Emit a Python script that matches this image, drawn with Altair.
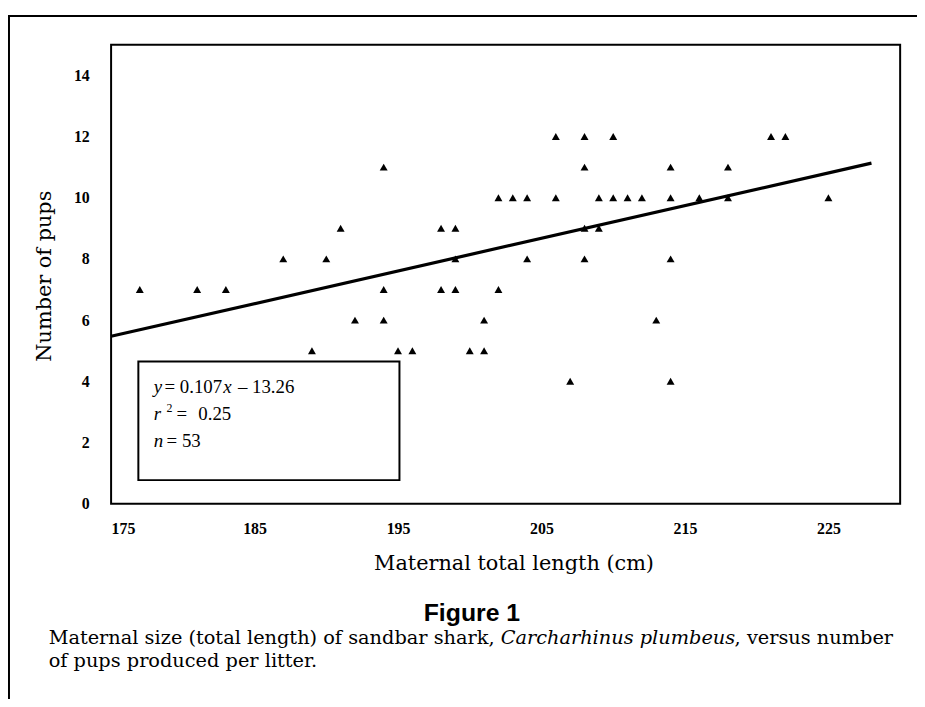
import altair as alt
import pandas as pd

# ---- data ----
length_cm = [206, 208, 210, 221, 222,
             194, 208, 214, 218,
             202, 203, 204, 206, 209, 210, 211, 212, 214, 216, 218, 225,
             191, 198, 199, 208, 209,
             187, 190, 199, 204, 208, 214,
             177, 181, 183, 194, 198, 199, 202,
             192, 194, 201, 213,
             189, 195, 196, 200, 201,
             207, 214]
pups = [12, 12, 12, 12, 12,
        11, 11, 11, 11,
        10, 10, 10, 10, 10, 10, 10, 10, 10, 10, 10, 10,
        9, 9, 9, 9, 9,
        8, 8, 8, 8, 8, 8,
        7, 7, 7, 7, 7, 7, 7,
        6, 6, 6, 6,
        5, 5, 5, 5, 5,
        4, 4]

x_ticks = [175, 185, 195, 205, 215, 225]
y_ticks = [0, 2, 4, 6, 8, 10, 12, 14]
x_domain = [175, 230]
y_domain = [0, 15]

fit_x = [175, 228]
fit_y = [5.47, 11.13]

box_x = [176.9, 195.1]
box_y = [0.77, 4.65]

eq_regular_text = ["= 0.107", "– 13.26", "=", "0.25", "= 53"]
eq_regular_x = [178.72, 183.84, 179.56, 181.08, 178.87]
eq_regular_y = [3.63, 3.63, 2.75, 2.75, 1.85]
eq_italic_text = ["y", "x", "r", "n"]
eq_italic_x = [177.97, 182.81, 177.97, 177.97]
eq_italic_y = [3.63, 3.63, 2.75, 1.85]
eq_sup_text = ["2"]
eq_sup_x = [178.87]
eq_sup_y = [3.0]

x_title = "Maternal total length (cm)"
y_title = "Number of pups"
fig_label = "Figure 1"
caption_1a = "Maternal size (total length) of sandbar shark,"
caption_1b = "Carcharhinus plumbeus"
caption_1c = ", versus number"
caption_2 = "of pups produced per litter."

W, H = 796, 463

df = pd.DataFrame({"length": length_cm, "pups": pups})
fit_df = pd.DataFrame({"length": fit_x, "pups": fit_y})
box_df = pd.DataFrame({"x0": [box_x[0]], "x1": [box_x[1]], "y0": [box_y[0]], "y1": [box_y[1]]})
one = pd.DataFrame({"k": [0]})

xs = alt.Scale(domain=x_domain, nice=False, zero=False)
ys = alt.Scale(domain=y_domain, nice=False, zero=True)

x_axis = alt.Axis(values=x_ticks, title=x_title, grid=False, ticks=False, tickSize=0, domain=False,
                  labelFont="Liberation Serif", labelFontWeight="bold", labelFontSize=16,
                  labelColor="black", labelPadding=17,
                  titleFont="DejaVu Serif", titleFontSize=21, titleFontWeight="normal",
                  titleColor="black", titleX=406, titleY=66, titleAlign="center",
                  titleBaseline="alphabetic")
y_axis = alt.Axis(values=y_ticks, title=y_title, grid=False, ticks=False, tickSize=0, domain=False,
                  labelFont="Liberation Serif", labelFontWeight="bold", labelFontSize=16,
                  labelColor="black", labelPadding=22,
                  titleFont="DejaVu Serif", titleFontSize=21, titleFontWeight="normal",
                  titleColor="black", titleX=-67, titleY=233, titleAngle=270,
                  titleAlign="center", titleBaseline="middle")

points = alt.Chart(df).mark_point(shape="triangle-up", filled=True, color="black",
                                  size=64, opacity=1).encode(
    x=alt.X("length:Q", scale=xs, axis=x_axis),
    y=alt.Y("pups:Q", scale=ys, axis=y_axis),
)

fit = alt.Chart(fit_df).mark_line(color="black", strokeWidth=3.2).encode(
    x=alt.X("length:Q", scale=xs),
    y=alt.Y("pups:Q", scale=ys),
)

box = alt.Chart(box_df).mark_rect(fill="white", stroke="black", strokeWidth=2).encode(
    x=alt.X("x0:Q", scale=xs), x2="x1:Q",
    y=alt.Y("y0:Q", scale=ys), y2="y1:Q",
)

eq_reg = alt.Chart(pd.DataFrame({"t": eq_regular_text, "x": eq_regular_x, "y": eq_regular_y})).mark_text(
    font="Liberation Serif", fontSize=19, align="left", baseline="alphabetic", color="black").encode(
    x=alt.X("x:Q", scale=xs), y=alt.Y("y:Q", scale=ys), text="t:N")
eq_it = alt.Chart(pd.DataFrame({"t": eq_italic_text, "x": eq_italic_x, "y": eq_italic_y})).mark_text(
    font="Liberation Serif", fontSize=19, fontStyle="italic", align="left", baseline="alphabetic",
    color="black").encode(
    x=alt.X("x:Q", scale=xs), y=alt.Y("y:Q", scale=ys), text="t:N")
eq_sup = alt.Chart(pd.DataFrame({"t": eq_sup_text, "x": eq_sup_x, "y": eq_sup_y})).mark_text(
    font="Liberation Serif", fontSize=12, align="left", baseline="alphabetic", color="black").encode(
    x=alt.X("x:Q", scale=xs), y=alt.Y("y:Q", scale=ys), text="t:N")

frame_top = alt.Chart(one).mark_rule(color="black", strokeWidth=2).encode(
    x=alt.value(-104), x2=alt.value(813), y=alt.value(-29))
frame_left = alt.Chart(one).mark_rule(color="black", strokeWidth=2).encode(
    x=alt.value(-103), y=alt.value(-29), y2=alt.value(663))

fig_txt = alt.Chart(one).mark_text(font="Liberation Sans", fontSize=25, fontWeight="bold",
                                   align="center", baseline="alphabetic", color="black").encode(
    x=alt.value(364), y=alt.value(581), text=alt.value(fig_label))
cap1a = alt.Chart(one).mark_text(font="DejaVu Serif", fontSize=19.5, align="left",
                                 baseline="alphabetic", color="black").encode(
    x=alt.value(-63), y=alt.value(605), text=alt.value(caption_1a))
cap1b = alt.Chart(one).mark_text(font="DejaVu Serif", fontSize=19.5, fontStyle="italic", align="left",
                                 baseline="alphabetic", color="black").encode(
    x=alt.value(393), y=alt.value(605), text=alt.value(caption_1b))
cap1c = alt.Chart(one).mark_text(font="DejaVu Serif", fontSize=19.5, align="left",
                                 baseline="alphabetic", color="black").encode(
    x=alt.value(629), y=alt.value(605), text=alt.value(caption_1c))
cap2 = alt.Chart(one).mark_text(font="DejaVu Serif", fontSize=19.5, align="left",
                                baseline="alphabetic", color="black").encode(
    x=alt.value(-63), y=alt.value(628), text=alt.value(caption_2))

chart = alt.layer(points, fit, box, eq_reg, eq_it, eq_sup, frame_top, frame_left,
                  fig_txt, cap1a, cap1b, cap1c, cap2).properties(
    width=W, height=H,
    padding={"left": 104, "top": 34, "right": 17, "bottom": 194},
    autosize=alt.AutoSizeParams(type="none"),
    background="white",
).configure_view(stroke="black", strokeWidth=2)

chart.save("out.html", embed_options={"renderer": "svg", "actions": False})
